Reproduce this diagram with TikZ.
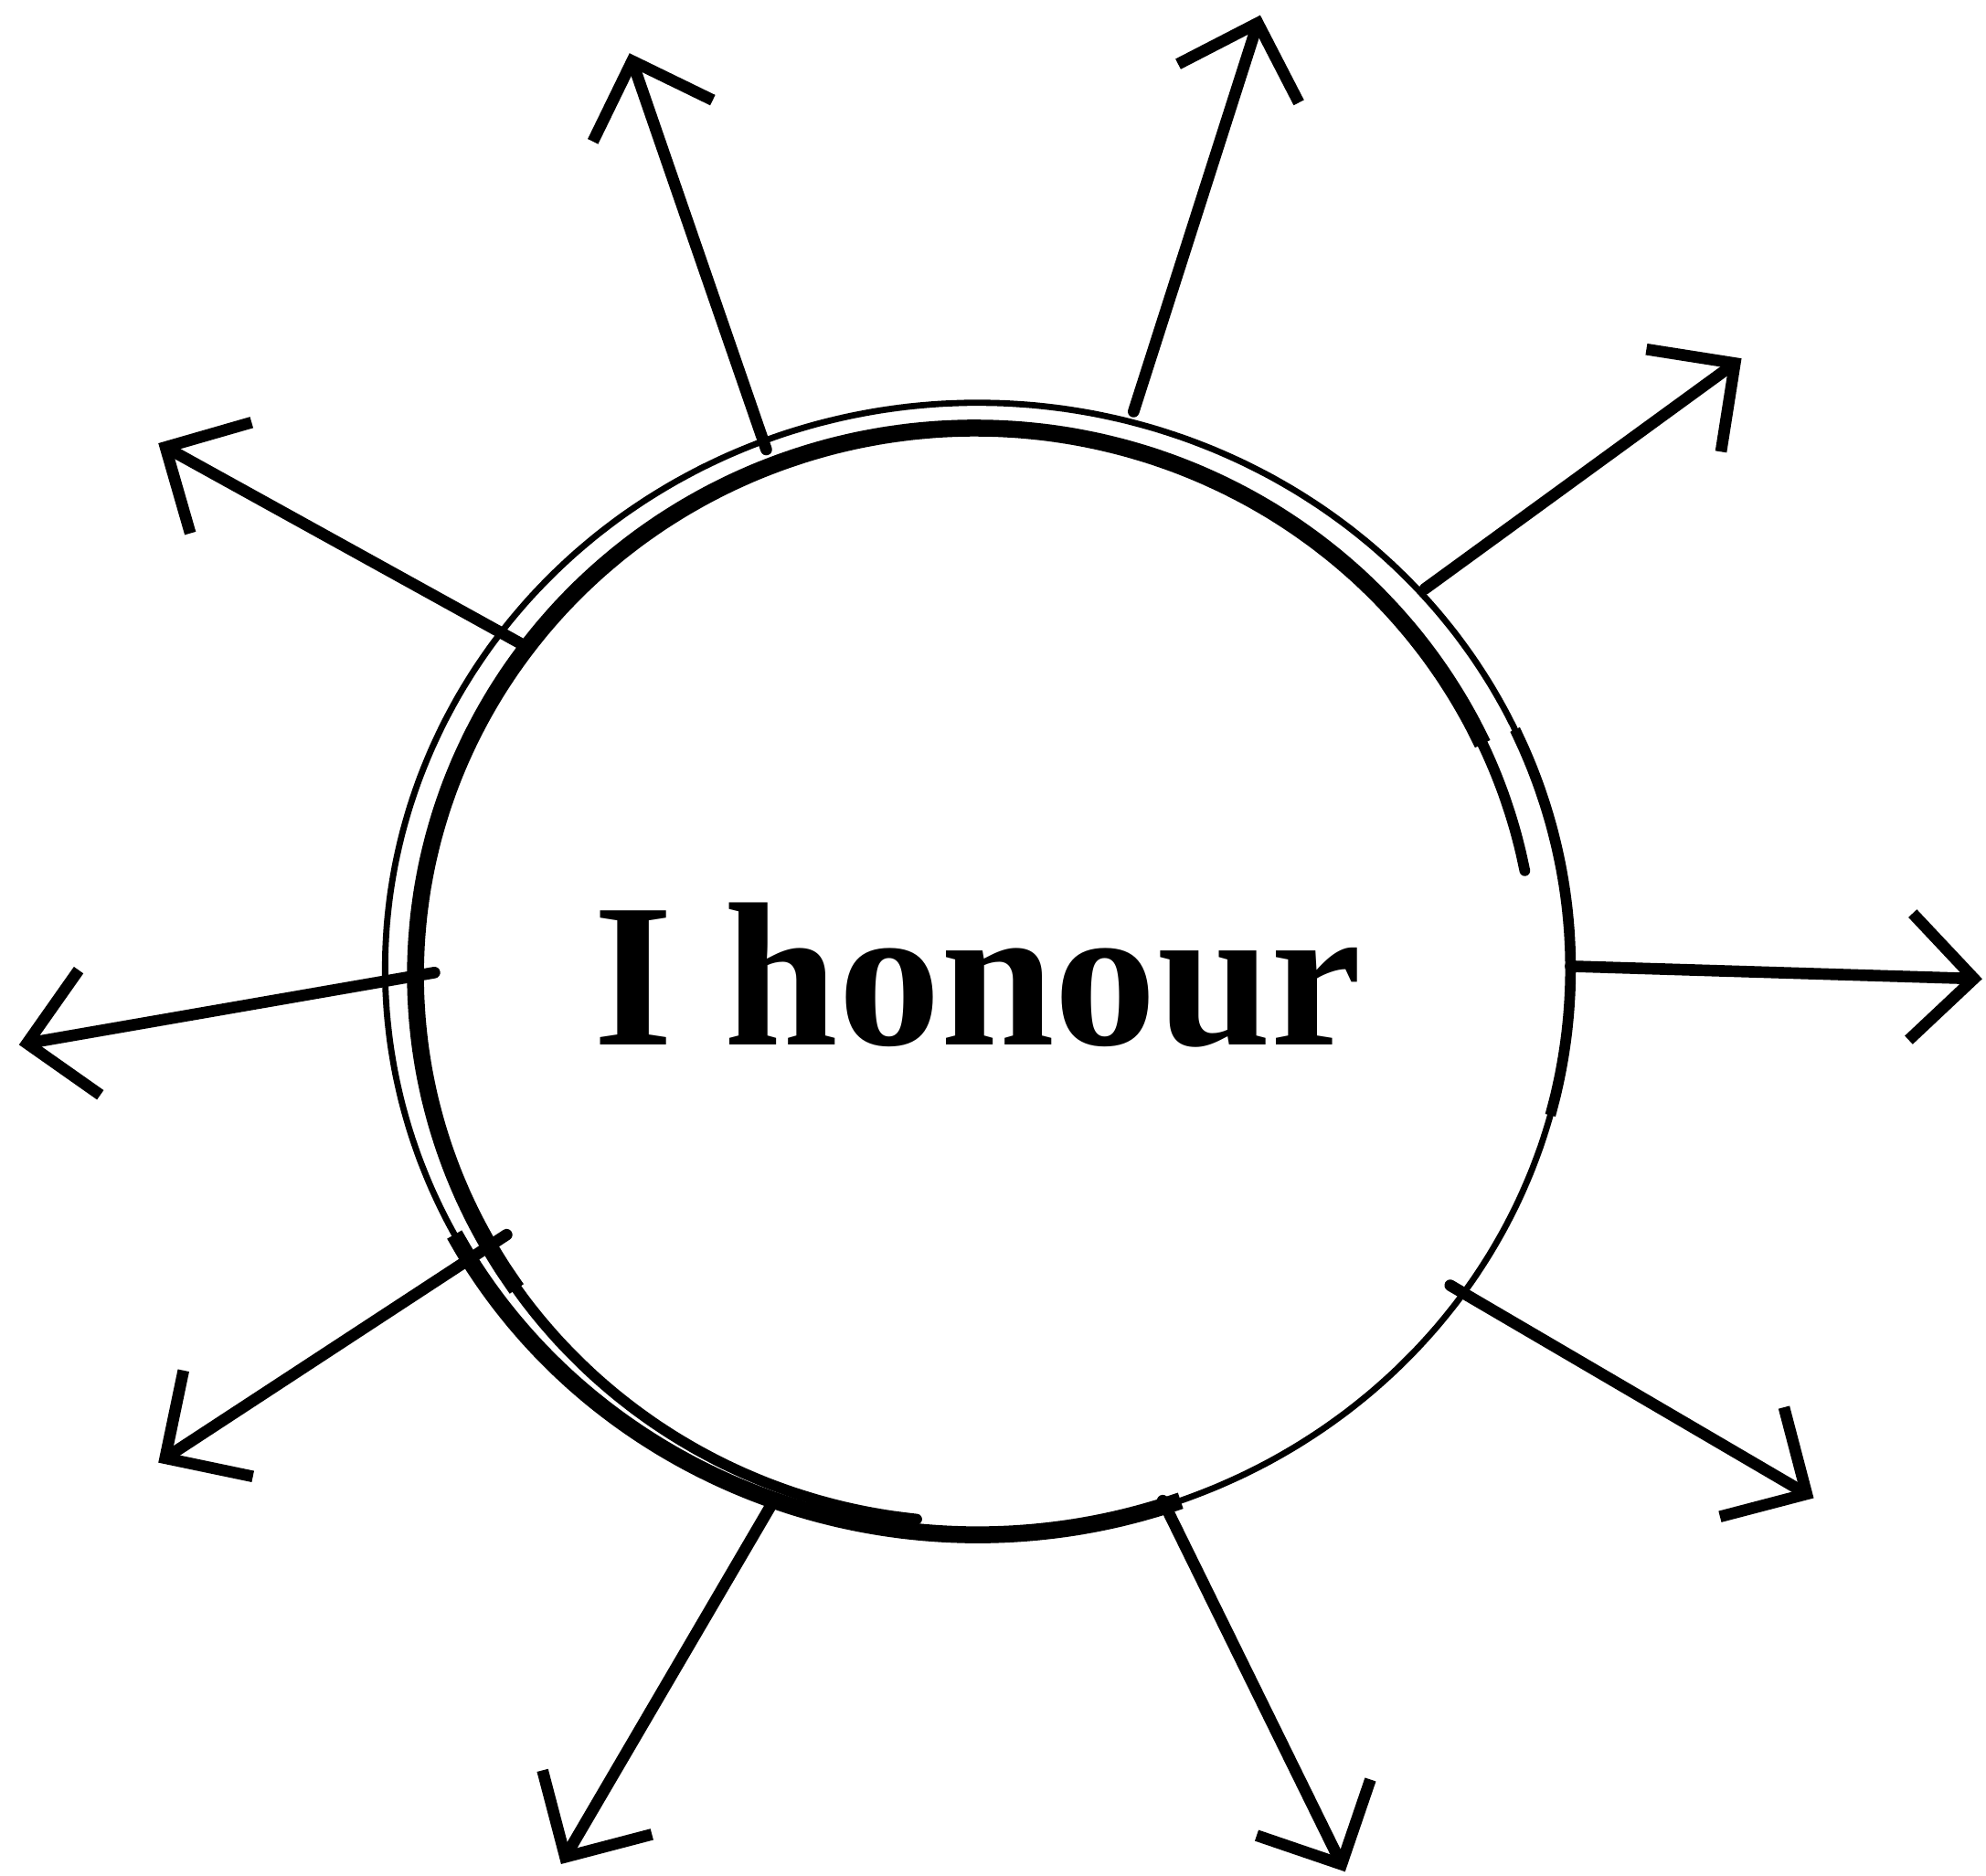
\documentclass[tikz,border=0pt]{standalone}
\usepackage{fontspec}
\setmainfont{Liberation Serif}
\usetikzlibrary{arrows.meta}

\begin{document}
\begin{tikzpicture}[x=0.01cm, y=-0.01cm,
  >={Straight Barb[length=5mm, width=10mm]},
  ray/.style={->, line width=2.6pt, line cap=round},
  rimthin/.style={line width=1.4pt},
  rim/.style={line width=2.4pt},
  rimbold/.style={line width=3.8pt}]
\useasboundingbox (0,0) rectangle (1568,1481);
\node[font=\fontsize{46}{50}\selectfont\bfseries, inner sep=0pt] (word) at (772,770) {I honour};
% outer loop of the sketched circle
\draw[rimthin] plot[domain=0:360, samples=120, smooth] ({772+468*cos(\x)},{765+447*sin(\x)});
\draw[rim] plot[domain=-25:15, samples=20, smooth] ({772+468*cos(\x)},{765+447*sin(\x)});
\draw[rimbold] plot[domain=70:152, samples=40, smooth] ({772+468*cos(\x)},{765+447*sin(\x)});
% inner loop
\draw[rim, line cap=round] plot[domain=96:146, samples=20, smooth] ({770+442*cos(\x)},{770+432*sin(\x)});
\draw[rimbold] plot[domain=145:335, samples=70, smooth] ({770+442*cos(\x)},{770+432*sin(\x)});
\draw[rim, line cap=round] plot[domain=334:349, samples=8, smooth] ({770+442*cos(\x)},{770+432*sin(\x)});
% rays
\foreach \i/\sx/\sy/\tx/\ty in {1/605/355/497/42, 2/895/325/995/12, 3/1125/465/1375/283,
  4/1240/763/1565/773, 5/1145/1015/1432/1183, 6/918/1185/1062/1478, 7/608/1190/443/1472,
  8/400/975/125/1155, 9/343/768/15/825, 10/418/512/125/350} {
  \coordinate (s\i) at (\sx,\sy);
  \coordinate (t\i) at (\tx,\ty);
  \draw[ray] (s\i) -- (t\i);
}
\end{tikzpicture}
\end{document}
